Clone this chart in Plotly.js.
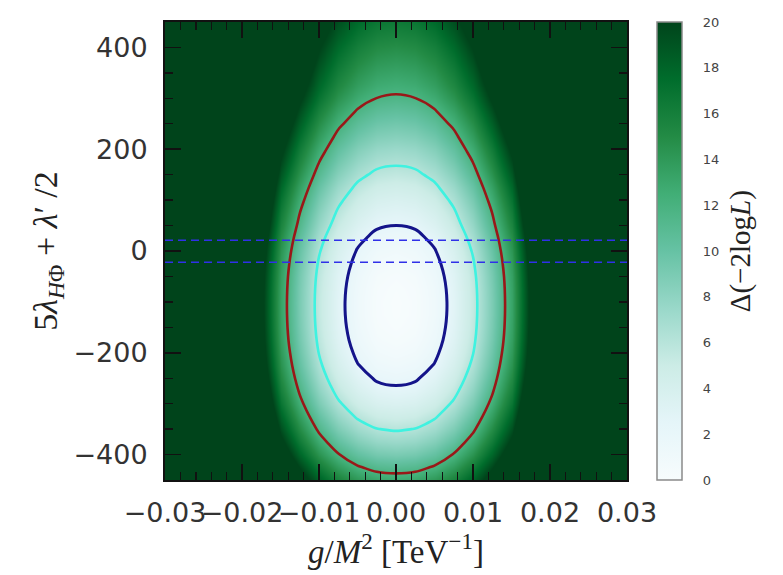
<!DOCTYPE html>
<html><head><meta charset="utf-8">
<script src="https://cdn.plot.ly/plotly-3.0.1.min.js"></script>
<style>body{margin:0;background:#fff}#chart{width:783px;height:575px}</style>
</head><body><div id="chart"></div>
<script>
// Grid of g/M^2 values (TeV^-1) and the Δ(-2logL) profile along it
const xGrid = [-0.03, -0.0275, -0.025, -0.0225, -0.02, -0.0175, -0.015, -0.0125, -0.01, -0.0075, -0.005, -0.0025, 0,
               0.0025, 0.005, 0.0075, 0.01, 0.0125, 0.015, 0.0175, 0.02, 0.0225, 0.025, 0.0275, 0.03];
const xProfile = [64, 54, 44, 36, 28, 21, 13.3, 8.9, 5.4, 2.9, 1.2, 0.25, 0,
                  0.25, 1.2, 2.9, 5.4, 8.9, 13.3, 21, 28, 36, 44, 54, 64];
// Grid of 5λ_HΦ + λ'/2 values and the Δ(-2logL) profile along it
const yGrid = [-450, -425, -400, -375, -350, -325, -300, -275, -250, -225, -200, -175, -150, -125, -100,
               -75, -50, -25, 0, 25, 50, 75, 100, 125, 150, 175, 200, 225, 250, 275, 300, 325, 350, 375, 400, 425, 450];
const yProfile = [12.86, 10.87, 9.06, 7.43, 5.98, 4.70, 3.59, 2.64, 1.84, 1.20, 0.71, 0.35, 0.13, 0.02, 0.00,
                  0.07, 0.24, 0.54, 0.97, 1.54, 2.27, 2.96, 3.73, 4.58, 5.51, 6.47, 7.40, 8.37, 9.39, 10.45, 11.55,
                  12.43, 13.22, 14.02, 14.82, 15.63, 16.44];
const contourLevels = [2.3, 6.18, 11.83];
const contourColors = ['#14148a', '#3ff2e0', '#991818'];
const contourWidths = [3, 2.6, 2.6];
const bandY = [21, -22];
const xRange = [-0.03, 0.03];
const yRange = [-450, 450];

// table built from the two profiles
const z = yProfile.map(fy => xProfile.map(fx => fy + fx));

const BuGn = [
  [0, '#f7fcfd'], [0.125, '#e5f5f9'], [0.25, '#ccece6'], [0.375, '#99d8c9'], [0.5, '#66c2a4'],
  [0.625, '#41ae76'], [0.75, '#238b45'], [0.875, '#006d2c'], [1, '#00441b']
];

const traces = [{
  type: 'heatmap', x: xGrid, y: yGrid, z: z, zmin: 0, zmax: 20, zsmooth: 'best',
  colorscale: BuGn, hoverinfo: 'skip',
  colorbar: {
    x: 1.065, xanchor: 'left', xpad: 0, y: 0.5, yanchor: 'middle', ypad: 0,
    len: 1, lenmode: 'fraction', thickness: 25,
    outlinecolor: '#8a8a8a', outlinewidth: 1.5,
    tick0: 0, dtick: 2, ticks: 'outside', ticklen: 18, tickcolor: 'rgba(0,0,0,0)',
    tickfont: {family: 'DejaVu Sans', size: 13, color: '#444'}
  }
}];

contourLevels.forEach((lv, i) => {
  traces.push({
    type: 'contour', x: xGrid, y: yGrid, z: z, showscale: false, hoverinfo: 'skip',
    autocontour: false,
    contours: {start: lv, end: lv, size: 1, coloring: 'none'},
    line: {color: contourColors[i], width: contourWidths[i], smoothing: 1}
  });
});

bandY.forEach(v => {
  traces.push({
    type: 'scatter', mode: 'lines', x: xRange, y: [v, v], hoverinfo: 'skip',
    line: {color: '#3030e8', width: 1.6, dash: '8px,5px'}
  });
});

const tickFont = {family: 'DejaVu Sans', size: 27, color: '#333'};
const layout = {
  width: 783, height: 575,
  margin: {l: 165, r: 156, t: 22, b: 95},
  paper_bgcolor: '#fff', plot_bgcolor: '#fff',
  showlegend: false,
  xaxis: {
    range: xRange, tick0: 0, dtick: 0.01, tickformat: '.2f', tickangle: 0,
    ticks: 'inside', ticklen: 16, tickwidth: 1.6, tickcolor: '#111',
    minor: {ticks: 'inside', ticklen: 8, tickwidth: 1.4, dtick: 0.002, tick0: 0, tickcolor: '#111'},
    showline: true, linewidth: 2, linecolor: '#111', mirror: 'allticks',
    showgrid: false, zeroline: false, tickfont: tickFont, ticklabelstandoff: 8,
    title: {text: '<i>g</i>/<i>M</i><sup>2</sup> [TeV<sup>−1</sup>]', font: {family: 'Liberation Serif', size: 33, color: '#222'}, standoff: 0}
  },
  yaxis: {
    range: yRange, tick0: 0, dtick: 200,
    ticks: 'inside', ticklen: 16, tickwidth: 1.6, tickcolor: '#111',
    minor: {ticks: 'inside', ticklen: 8, tickwidth: 1.4, dtick: 50, tick0: 0, tickcolor: '#111'},
    showline: true, linewidth: 2, linecolor: '#111', mirror: 'allticks',
    showgrid: false, zeroline: false, tickfont: tickFont, ticklabelstandoff: 10,
    title: {text: '5<i>λ</i><sub><i>H</i>Φ</sub> + <i>λ</i>′ /2', font: {family: 'Liberation Serif', size: 34, color: '#222'}, standoff: 6}
  },
  annotations: [{
    xref: 'paper', yref: 'paper', x: 1.245, y: 0.5, xanchor: 'center', yanchor: 'middle',
    text: 'Δ(−2log<i>L</i>)', textangle: -90, showarrow: false,
    font: {family: 'Liberation Serif', size: 29, color: '#222'}
  }]
};

Plotly.newPlot('chart', traces, layout, {displayModeBar: false, staticPlot: true});
</script>
</body></html>
